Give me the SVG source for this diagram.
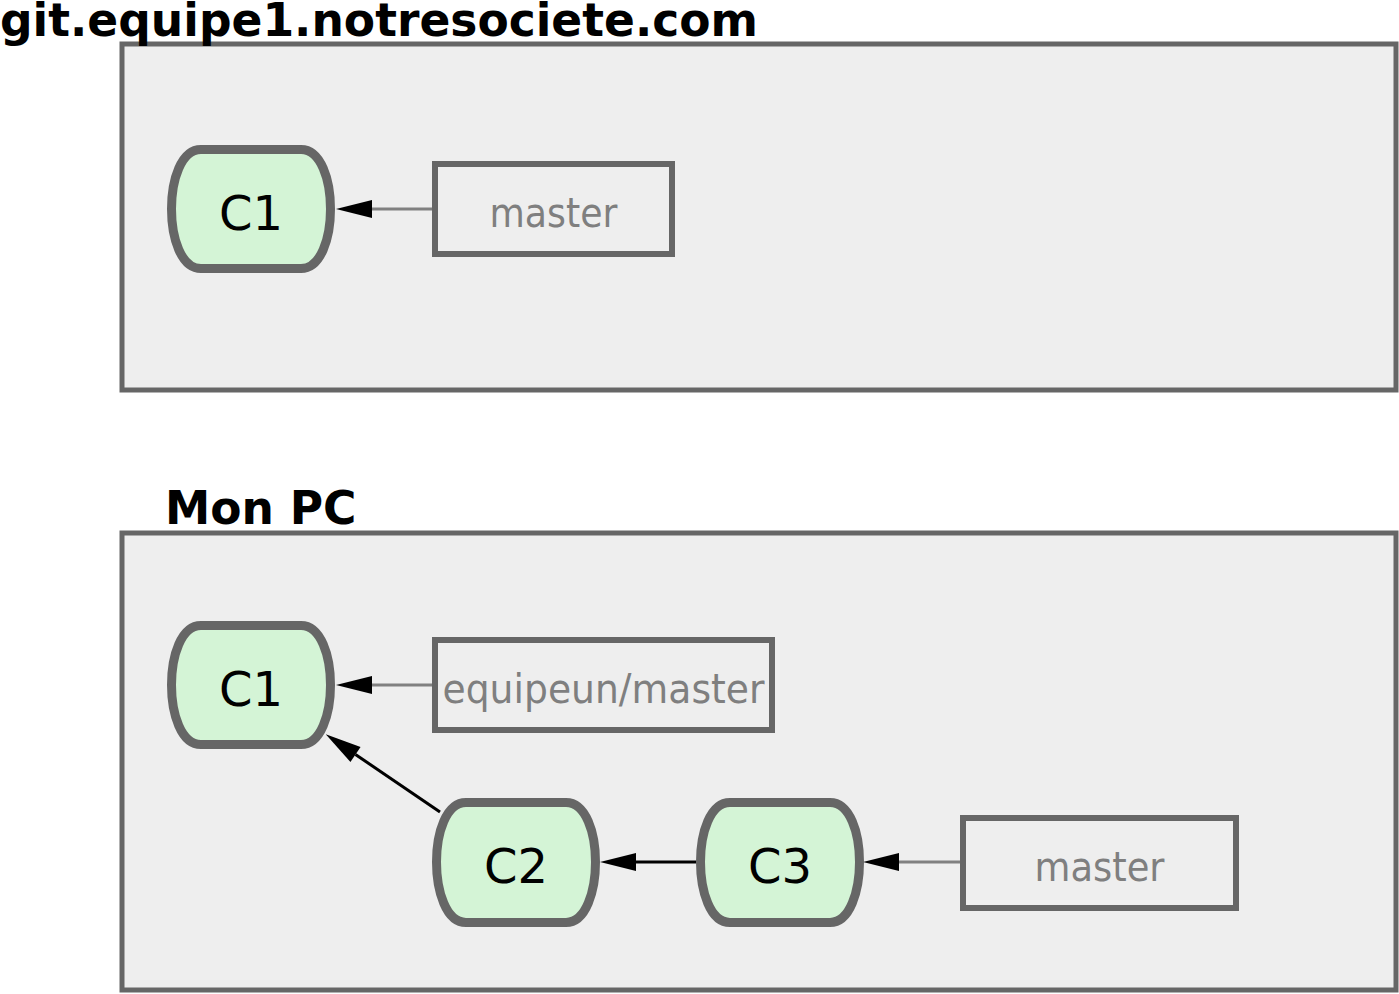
<svg xmlns="http://www.w3.org/2000/svg" width="1399" height="994" viewBox="0 0 1399 994">
<style>
.bg{fill:#ffffff}
.cluster{fill:#eeeeee;stroke:#666666;stroke-width:5}
.title{font-family:"DejaVu Sans","Liberation Sans",sans-serif;font-weight:bold;font-size:45.5px;fill:#000000}
.commit{fill:#d4f4d6;stroke:#666666;stroke-width:9;stroke-linejoin:round}
.ctext{font-family:"DejaVu Sans","Liberation Sans",sans-serif;font-size:48px;fill:#000000;text-anchor:middle}
.branch{fill:none;stroke:#666666;stroke-width:6}
.btext{font-family:"DejaVu Sans","Liberation Sans",sans-serif;font-size:41px;fill:#7f7f7f;text-anchor:middle}
.ref{fill:none;stroke:#808080;stroke-width:3}
.parent{fill:none;stroke:#000000;stroke-width:3}
</style>
<defs>
<marker id="arrow" markerUnits="userSpaceOnUse" viewBox="0 0 36 18" refX="0" refY="9" markerWidth="36" markerHeight="18" orient="auto" overflow="visible">
<path d="M0,0 L36,9 L0,18 Z" fill="#000000"/>
</marker>
</defs>
<rect class="bg" x="0" y="0" width="1399" height="994"/>

<g id="cluster-server">
<rect class="cluster" x="122" y="44" width="1274" height="346"/>
<text class="title" x="0" y="36" textLength="758" lengthAdjust="spacingAndGlyphs">git.equipe1.notresociete.com</text>
</g>
<g id="cluster-local">
<rect class="cluster" x="122" y="533" width="1274" height="457"/>
<text class="title" x="165" y="524">Mon PC</text>
</g>

<g id="connectors">
<line class="ref" x1="432" y1="209" x2="372" y2="209" marker-end="url(#arrow)"/>
<line class="ref" x1="432" y1="685" x2="372" y2="685" marker-end="url(#arrow)"/>
<line class="parent" x1="440" y1="812" x2="355.5" y2="754.5" marker-end="url(#arrow)"/>
<line class="parent" x1="696" y1="862" x2="636" y2="862" marker-end="url(#arrow)"/>
<line class="ref" x1="960" y1="862" x2="899" y2="862" marker-end="url(#arrow)"/>
</g>

<g id="server-C1">
<path class="commit" d="M201,149.5 L301,149.5 C321,149.5 330.5,180 330.5,209 C330.5,238 321,268.5 301,268.5 L201,268.5 C181,268.5 171.5,238 171.5,209 C171.5,180 181,149.5 201,149.5 Z"/>
<text class="ctext" x="251" y="230">C1</text>
</g>
<g id="server-master">
<rect class="branch" x="435" y="164" width="237" height="90"/>
<text class="btext" x="553.5" y="227" textLength="128" lengthAdjust="spacingAndGlyphs">master</text>
</g>

<g id="local-C1">
<path class="commit" d="M201,625.5 L301,625.5 C321,625.5 330.5,656 330.5,685 C330.5,714 321,744.5 301,744.5 L201,744.5 C181,744.5 171.5,714 171.5,685 C171.5,656 181,625.5 201,625.5 Z"/>
<text class="ctext" x="251" y="706">C1</text>
</g>
<g id="local-equipeun-master">
<rect class="branch" x="435" y="640" width="337" height="90"/>
<text class="btext" x="603.5" y="703" textLength="322" lengthAdjust="spacingAndGlyphs">equipeun/master</text>
</g>
<g id="local-C2">
<path class="commit" d="M466,802.5 L566,802.5 C586,802.5 595.5,833 595.5,862 C595.5,891 586,922.5 566,922.5 L466,922.5 C446,922.5 436.5,891 436.5,862 C436.5,833 446,802.5 466,802.5 Z"/>
<text class="ctext" x="516" y="883">C2</text>
</g>
<g id="local-C3">
<path class="commit" d="M730,802.5 L830,802.5 C850,802.5 859.5,833 859.5,862 C859.5,891 850,922.5 830,922.5 L730,922.5 C710,922.5 700.5,891 700.5,862 C700.5,833 710,802.5 730,802.5 Z"/>
<text class="ctext" x="780" y="883">C3</text>
</g>
<g id="local-master">
<rect class="branch" x="963" y="818" width="273" height="90"/>
<text class="btext" x="1099.5" y="881" textLength="130" lengthAdjust="spacingAndGlyphs">master</text>
</g>
</svg>
